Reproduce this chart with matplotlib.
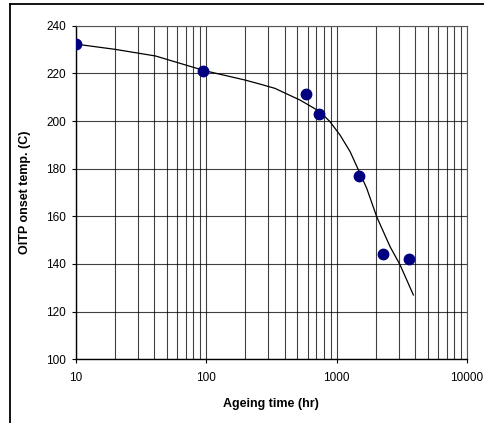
import matplotlib
matplotlib.use("Agg")
import matplotlib.pyplot as plt
from matplotlib.lines import Line2D
from matplotlib.ticker import LogLocator, FixedLocator, NullFormatter

plt.rcParams["font.family"] = ["Liberation Sans", "DejaVu Sans"]

# measured points
ageing_hr = [10, 95, 580, 735, 1490, 2285, 3610]
oitp_onset = [232.3, 221.0, 211.2, 202.9, 176.9, 144.0, 142.2]

# trend curve
curve_hr = [10, 20, 41, 98, 199, 259, 338, 369, 525, 748, 891, 1064, 1269,
            1513, 1702, 2032, 2570, 3069, 3879]
curve_temp = [232.3, 230.1, 227.3, 221.1, 217.2, 215.5, 213.7, 212.7, 208.8, 203.9,
              199.7, 194.1, 187.2, 178.0, 171.8, 159.8, 147.3, 139.6, 127.0]

y_ticks = [100, 120, 140, 160, 180, 200, 220, 240]
x_ticks = [10, 100, 1000, 10000]

fig = plt.figure(figsize=(4.85, 4.23), dpi=100)
ax = fig.add_axes([0.1557, 0.1506, 0.8073, 0.7886])

ax.set_xscale("log")
ax.set_xlim(10, 10000)
ax.set_ylim(100, 240)

ax.plot(curve_hr, curve_temp, color="black", lw=0.9, zorder=3)
ax.plot(ageing_hr, oitp_onset, "o", color="#000080", ms=7.5, mec="#000080", zorder=4)

ax.xaxis.set_major_locator(FixedLocator(x_ticks))
ax.set_xticklabels([str(v) for v in x_ticks])
ax.xaxis.set_minor_locator(LogLocator(base=10, subs=range(2, 10)))
ax.xaxis.set_minor_formatter(NullFormatter())
ax.set_yticks(y_ticks)

ax.grid(True, which="both", axis="x", color="black", lw=0.8, alpha=0.75)
ax.grid(True, which="major", axis="y", color="black", lw=0.8, alpha=0.75)
ax.set_axisbelow(True)

for s in ["top", "right"]:
    ax.spines[s].set_color("#555555")
    ax.spines[s].set_linewidth(0.8)
for s in ["left", "bottom"]:
    ax.spines[s].set_color("black")
    ax.spines[s].set_linewidth(1.0)

ax.tick_params(axis="both", which="major", direction="out", length=3, width=0.8,
               labelsize=8.5, pad=4)
ax.tick_params(axis="x", which="minor", length=0)
ax.tick_params(axis="x", which="major", pad=6)

ax.set_xlabel("Ageing time (hr)", fontsize=9, fontweight="bold", labelpad=10)
ax.set_ylabel("OITP onset temp. (C)", fontsize=9, fontweight="bold", labelpad=11)

# outer chart frame, clipped by the image edge
fig.add_artist(Line2D([10 / 485, 10 / 485], [0, 1 - 4 / 423], transform=fig.transFigure,
                      color="black", lw=1.3))
fig.add_artist(Line2D([10 / 485, 1], [1 - 4 / 423, 1 - 4 / 423], transform=fig.transFigure,
                      color="black", lw=1.3))

fig.savefig("out.png", dpi=100)
